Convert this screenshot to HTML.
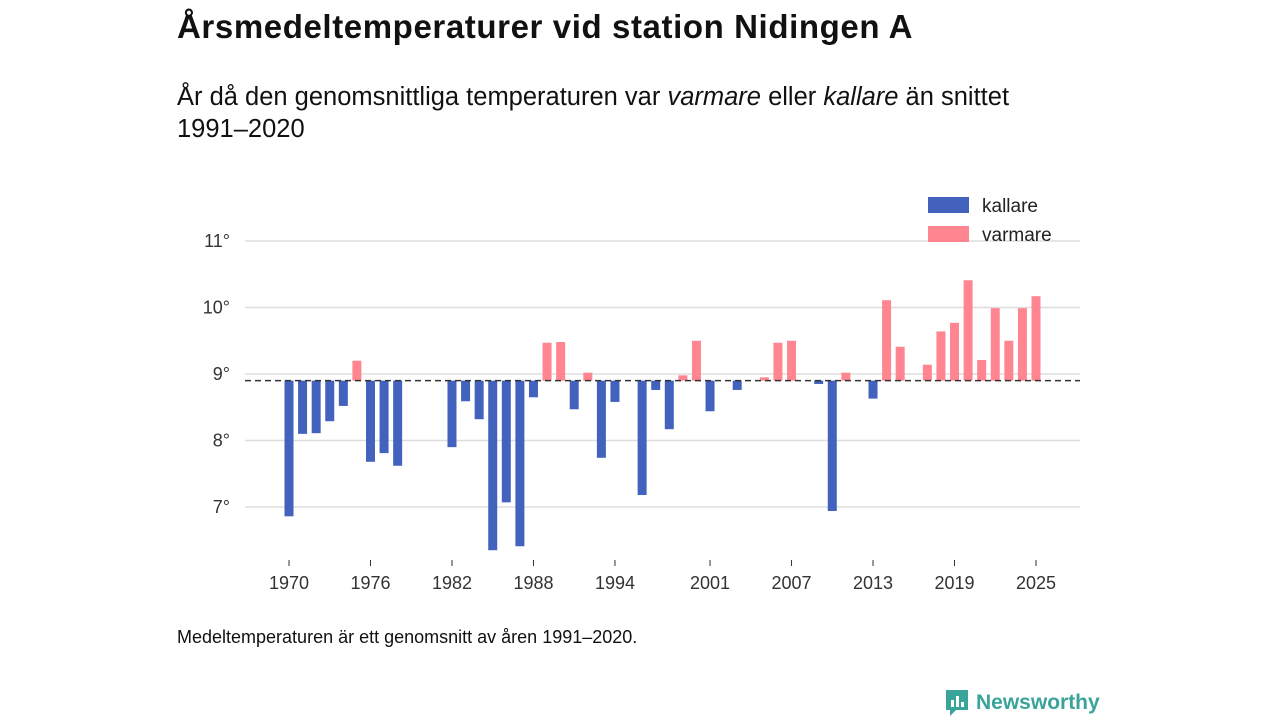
<!DOCTYPE html>
<html><head><meta charset="utf-8"><style>
body{margin:0;width:1280px;height:720px;background:#fff;font-family:"Liberation Sans","DejaVu Sans",sans-serif;color:#111;position:relative;overflow:hidden}
.t{position:absolute;left:177px;top:8px;font-size:33px;font-weight:bold;letter-spacing:0.6px}
.s{position:absolute;left:177px;top:81px;font-size:25.5px;line-height:32px;width:880px}
.f{position:absolute;left:177px;top:627px;font-size:18px}
.logo{position:absolute;left:944px;top:688px;font-size:21px;font-weight:bold;color:#3aa39a;display:flex;align-items:center;gap:6px}
</style></head><body>
<div class="t">Årsmedeltemperaturer vid station Nidingen A</div>
<div class="s">År då den genomsnittliga temperaturen var <i>varmare</i> eller <i>kallare</i> än snittet <span style="white-space:nowrap">1991–2020</span></div>
<svg id="c" width="1280" height="720" style="position:absolute;left:0;top:0"></svg>
<div class="f">Medeltemperaturen är ett genomsnitt av åren 1991–2020.</div>
<div class="logo"><svg width="26" height="30" viewBox="0 0 26 30"><path d="M2 2h22v20H12l-6 6v-6H2z" fill="#3aa39a"/><rect x="7" y="12" width="3" height="7" fill="#fff"/><rect x="12" y="8" width="3" height="11" fill="#fff"/><rect x="17" y="14" width="3" height="5" fill="#fff"/></svg>Newsworthy</div>
<script>
const years=[1970,1971,1972,1973,1974,1975,1976,1977,1978,1982,1983,1984,1985,1986,1987,1988,1989,1990,1991,1992,1993,1994,1996,1997,1998,1999,2000,2001,2003,2005,2006,2007,2009,2010,2011,2013,2014,2015,2017,2018,2019,2020,2021,2022,2023,2024,2025];
const temps=[6.86,8.10,8.11,8.29,8.52,9.20,7.68,7.81,7.62,7.90,8.59,8.32,6.35,7.07,6.41,8.65,9.47,9.48,8.47,9.02,7.74,8.58,7.18,8.76,8.17,8.98,9.50,8.44,8.76,8.95,9.47,9.50,8.85,6.94,9.02,8.63,10.11,9.41,9.14,9.64,9.77,10.41,9.21,9.99,9.50,9.99,10.17];
const mean=8.9;
const yTicks=[7,8,9,10,11];
const xTicks=[1970,1976,1982,1988,1994,2001,2007,2013,2019,2025];
const svg=document.getElementById('c'),NS='http://www.w3.org/2000/svg';
const x=v=>289+(v-1970)*(1036-289)/55;
const y=v=>374-(v-9)*66.5;
function mk(tag,a){const e=document.createElementNS(NS,tag);for(const k in a)e.setAttribute(k,a[k]);svg.appendChild(e);return e;}
yTicks.forEach(t=>{
 const l=mk('line',{x1:245,x2:1080,y1:y(t),y2:y(t),stroke:'#ddd','stroke-width':1.5});
 
 
 const tx=mk('text',{x:230,y:y(t)+6,'text-anchor':'end','font-size':18,fill:'#333'});
 tx.textContent=t+'°';
 
 
});
xTicks.forEach(t=>{
 const l=mk('line',{x1:x(t),x2:x(t),y1:560,y2:566,stroke:'#333'});
 
 
 const tx=mk('text',{x:x(t),y:589,'text-anchor':'middle','font-size':18,fill:'#333'});
 tx.textContent=t;
 
 
});
years.forEach((yr,i)=>{
 const v=temps[i],y0=y(mean),y1=y(v);
 const r=mk('rect',{x:x(yr)-4.5,width:9,y:Math.min(y0,y1),height:Math.abs(y1-y0),fill:v<mean?'#4262be':'#ff8591'});
 
 
});
const ml=mk('line',{x1:245,x2:1080,y1:y(mean),y2:y(mean),stroke:'#333','stroke-width':1.5,'stroke-dasharray':'6,4'});


[['kallare','#4262be',197],['varmare','#ff8591',226]].forEach(([n,c,yy])=>{
 const r=mk('rect',{x:928,y:yy,width:41,height:16,fill:c});
 
 
 const tx=mk('text',{x:982,y:yy+15,'font-size':19,fill:'#222'});
 tx.textContent=n;
 
 
});
</script>
</body></html>
